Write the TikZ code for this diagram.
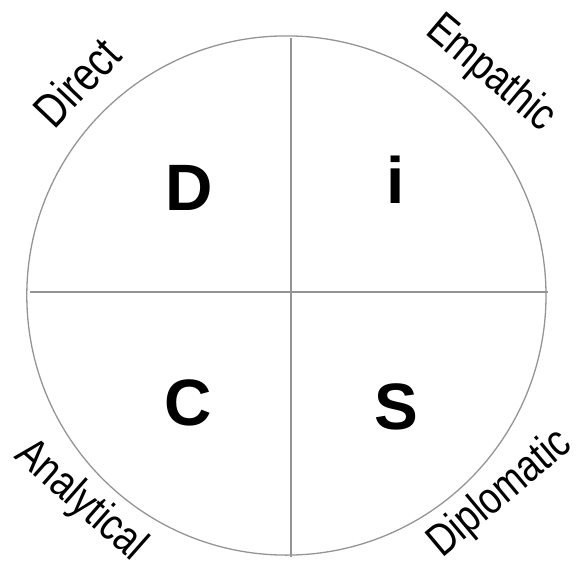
\documentclass[tikz,border=0pt]{standalone}
\usepackage{fontspec}
\setmainfont{Liberation Sans}
\usepackage{tikz}

\begin{document}
\begin{tikzpicture}[x=1pt,y=-1pt,
            quad/.style={font=\fontsize{65.6}{70}\selectfont\bfseries,inner sep=0pt,anchor=base},
            trait/.style={font=\fontsize{45}{50}\selectfont,inner sep=0pt,anchor=base},
            rim/.style={draw=black!42,line width=1.3pt}]
            \useasboundingbox (0,0) rectangle (579,568);
            \draw[rim] (286.4,295.5) circle (259.6);

            % cross
            \coordinate (west) at (30,292);
            \coordinate (east) at (548,292);
            \coordinate (north) at (291,38);
            \coordinate (south) at (291,557);
            \draw[rim] (west)--(east) (north)--(south);

            % letters
            \node[quad] (D) at (189,210) {D};
            \node[quad] (i) at (396,203) {i};
            \node[quad] (C) at (188,425) {C};
            \node[quad] (S) at (396,429) {S};

            % traits
            \node[trait,rotate=46.5,font=\fontsize{48}{52}\selectfont] (direct) at (89.4,93.7) {\scalebox{0.8}[1]{Direct}};
            \node[trait,rotate=-40] (empathic) at (483,83) {\scalebox{0.82}[1]{Empathic}};
            \node[trait,rotate=-41.4] (analytical) at (72.5,509.5) {\scalebox{0.82}[1]{Analytical}};
            \node[trait,rotate=40] (diplomatic) at (508,503) {\scalebox{0.82}[1]{Diplomatic}};
        \end{tikzpicture}
\end{document}
